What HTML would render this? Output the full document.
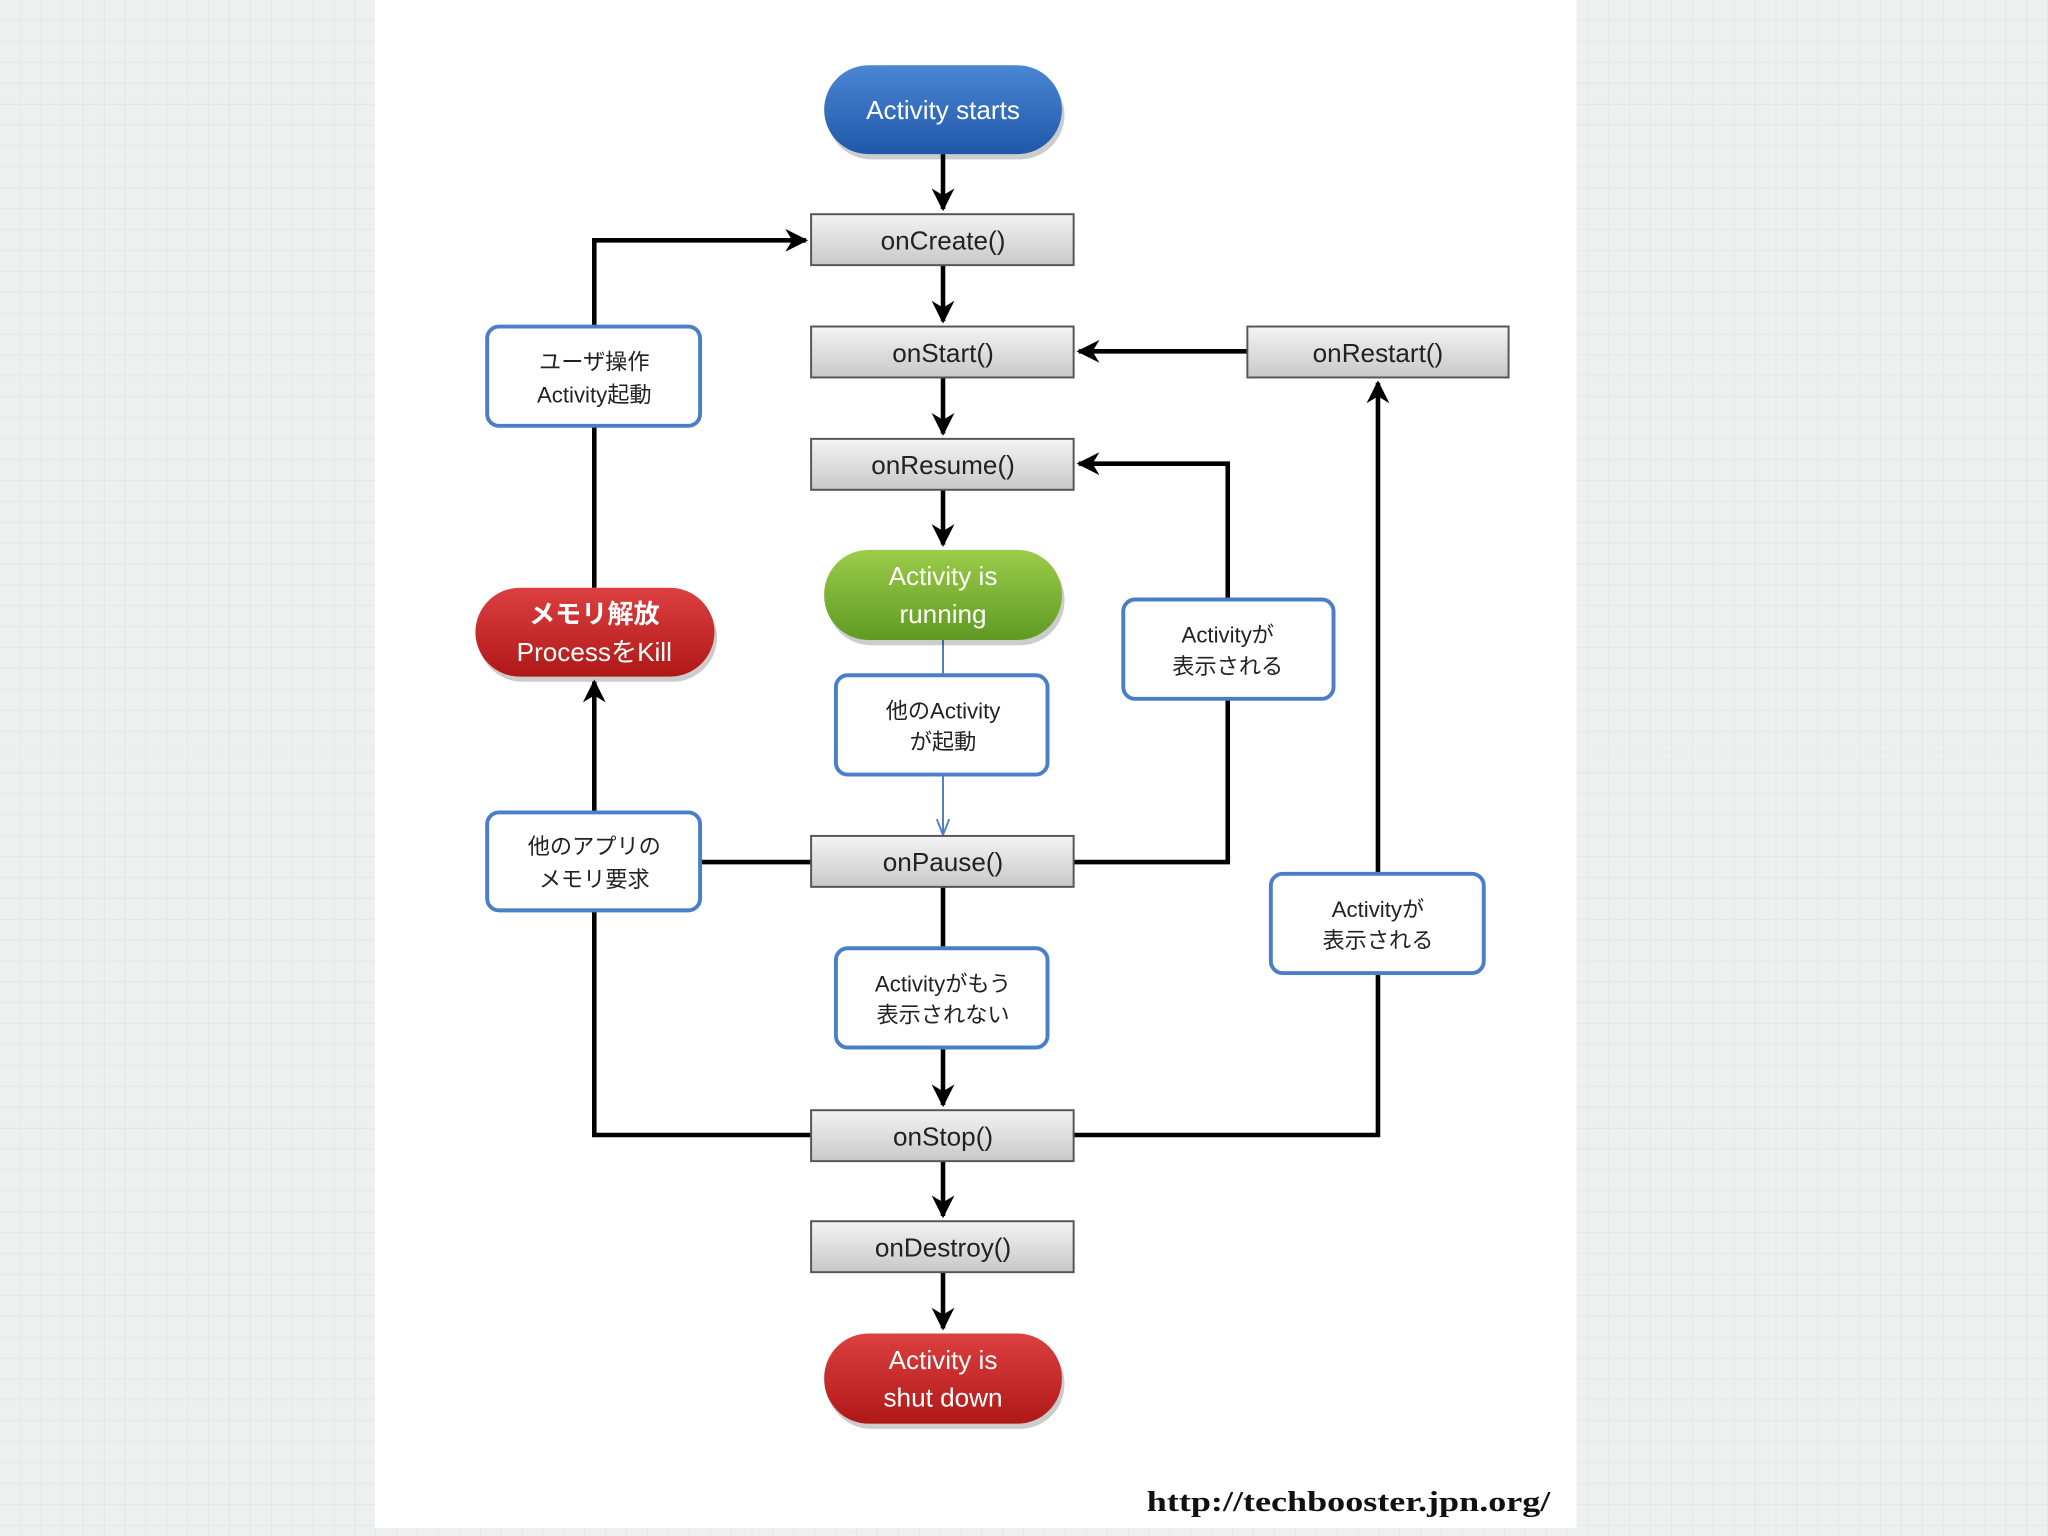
<!DOCTYPE html>
<html><head><meta charset="utf-8"><style>
html,body{margin:0;padding:0;width:2048px;height:1536px;overflow:hidden;background:#eef0f0;}
svg{display:block}
text{font-family:"Liberation Sans","Noto Sans CJK JP",sans-serif;}
</style></head><body>
<svg width="2048" height="1536" viewBox="0 0 1568 1176" xmlns="http://www.w3.org/2000/svg">
<defs>
<pattern id="grid" width="16" height="16" patternUnits="userSpaceOnUse">
<path d="M16 0V16H0" fill="none" stroke="#dde2e2" stroke-width="1"/>
</pattern>
<linearGradient id="gbox" x1="0" y1="0" x2="0" y2="1"><stop offset="0" stop-color="#f4f4f4"/><stop offset="1" stop-color="#c8c8c8"/></linearGradient>
<linearGradient id="gblue" x1="0" y1="0" x2="0" y2="1"><stop offset="0" stop-color="#4a86d4"/><stop offset="1" stop-color="#2058a8"/></linearGradient>
<linearGradient id="ggreen" x1="0" y1="0" x2="0" y2="1"><stop offset="0" stop-color="#9ccc4a"/><stop offset="1" stop-color="#5f9a22"/></linearGradient>
<linearGradient id="gred" x1="0" y1="0" x2="0" y2="1"><stop offset="0" stop-color="#dc4040"/><stop offset="1" stop-color="#b01818"/></linearGradient>
<marker id="ar" viewBox="0 0 10 10" refX="9" refY="5" markerWidth="5" markerHeight="5" orient="auto"><path d="M0 0L10 5L0 10L3 5z" fill="#000"/></marker>
<marker id="arb" viewBox="0 0 10 10" refX="9" refY="5" markerWidth="8" markerHeight="8" orient="auto"><path d="M0 1L10 5L0 9" fill="none" stroke="#4a7fc8" stroke-width="1.2"/></marker>
</defs>
<rect width="1568" height="1176" fill="url(#grid)"/>
<rect x="287" y="0" width="920" height="1170" fill="#ffffff"/>
<g stroke="#000" stroke-width="3.5" fill="none">
<path d="M722 118V160" marker-end="url(#ar)"/>
<path d="M722 203V246" marker-end="url(#ar)"/>
<path d="M722 289V332" marker-end="url(#ar)"/>
<path d="M722 375V417" marker-end="url(#ar)"/>
<path d="M722 679V726"/>
<path d="M722 802V846" marker-end="url(#ar)"/>
<path d="M722 889V931" marker-end="url(#ar)"/>
<path d="M722 974V1017" marker-end="url(#ar)"/>
<path d="M621 869H455V697"/>
<path d="M455 622V522" marker-end="url(#ar)"/>
<path d="M455 450V326"/>
<path d="M455 250V184H617" marker-end="url(#ar)"/>
<path d="M536 660H621"/>
<path d="M822 660H940V535"/>
<path d="M940 459V355H826" marker-end="url(#ar)"/>
<path d="M822 869H1055V745"/>
<path d="M1055 669V293" marker-end="url(#ar)"/>
<path d="M955 269H826" marker-end="url(#ar)"/>
</g>
<g stroke="#4a7fc8" stroke-width="1.5" fill="none">
<path d="M722 490V517"/>
<path d="M722 593V638" marker-end="url(#arb)"/>
</g>
<g stroke="#555" stroke-width="1.5" fill="url(#gbox)">
<rect x="621" y="164" width="201" height="39"/>
<rect x="621" y="250" width="201" height="39"/>
<rect x="955" y="250" width="200" height="39"/>
<rect x="621" y="336" width="201" height="39"/>
<rect x="621" y="640" width="201" height="39"/>
<rect x="621" y="850" width="201" height="39"/>
<rect x="621" y="935" width="201" height="39"/>
</g>
<g fill="#222" font-size="20" text-anchor="middle">
<text x="722" y="191">onCreate()</text>
<text x="722" y="277">onStart()</text>
<text x="1055" y="277">onRestart()</text>
<text x="722" y="363">onResume()</text>
<text x="722" y="667">onPause()</text>
<text x="722" y="877">onStop()</text>
<text x="722" y="962">onDestroy()</text>
</g>
<g stroke="#4a7fc8" stroke-width="3" fill="#fff">
<rect x="373" y="250" width="163" height="76" rx="9"/>
<rect x="373" y="622" width="163" height="75" rx="9"/>
<rect x="640" y="517" width="162" height="76" rx="9"/>
<rect x="640" y="726" width="162" height="76" rx="9"/>
<rect x="860" y="459" width="161" height="76" rx="9"/>
<rect x="973" y="669" width="163" height="76" rx="9"/>
</g>
<g fill="#222" font-size="17" text-anchor="middle">
<text x="455" y="283">ユーザ操作</text><text x="455" y="308">Activity起動</text>
<text x="455" y="654">他のアプリの</text><text x="455" y="679">メモリ要求</text>
<text x="722" y="550">他のActivity</text><text x="722" y="574">が起動</text>
<text x="722" y="759">Activityがもう</text><text x="722" y="783">表示されない</text>
<text x="940" y="492">Activityが</text><text x="940" y="516">表示される</text>
<text x="1055" y="702">Activityが</text><text x="1055" y="726">表示される</text>
</g>
<g fill="#000" opacity="0.2">
<rect x="633" y="54" width="182" height="68" rx="34"/>
<rect x="633" y="425" width="182" height="69" rx="34"/>
<rect x="633" y="1025" width="182" height="69" rx="34"/>
<rect x="366" y="454" width="183" height="68" rx="34"/>
</g>
<rect x="631" y="50" width="182" height="68" rx="34" fill="url(#gblue)"/>
<rect x="631" y="421" width="182" height="69" rx="34" fill="url(#ggreen)"/>
<rect x="631" y="1021" width="182" height="69" rx="34" fill="url(#gred)"/>
<rect x="364" y="450" width="183" height="68" rx="34" fill="url(#gred)"/>
<g fill="#fff" font-size="20" text-anchor="middle">
<text x="722" y="91">Activity starts</text>
<text x="722" y="448">Activity is</text><text x="722" y="477">running</text>
<text x="722" y="1048">Activity is</text><text x="722" y="1077">shut down</text>
<text x="455" y="477" font-weight="bold">メモリ解放</text><text x="455" y="506">ProcessをKill</text>
</g>
<text x="878" y="1157" textLength="309" lengthAdjust="spacingAndGlyphs" style="font-family:'Liberation Serif',serif;font-weight:bold;font-size:22px" fill="#111">http://techbooster.jpn.org/</text>
</svg>
</body></html>
